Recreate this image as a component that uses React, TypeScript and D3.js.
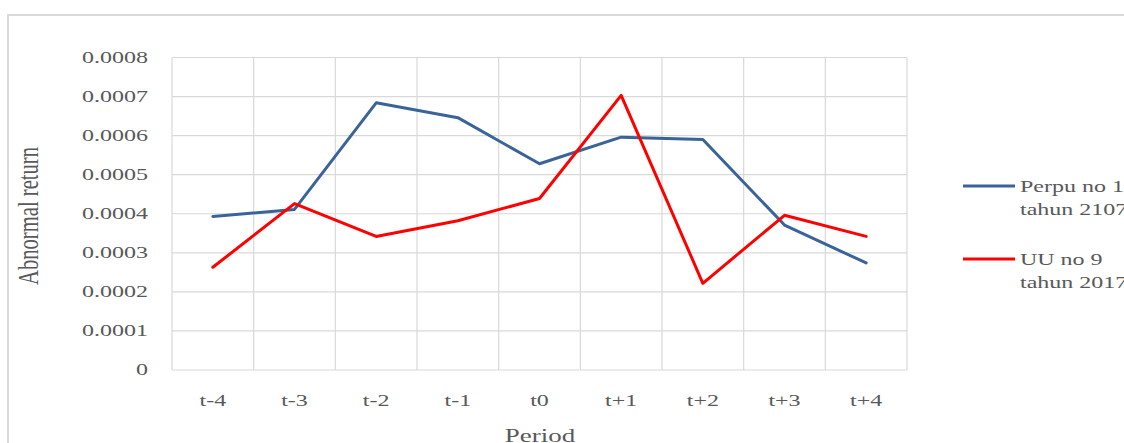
import React from "react";
import * as d3 from "d3";

const periods = ["t-4", "t-3", "t-2", "t-1", "t0", "t+1", "t+2", "t+3", "t+4"];
const perpuValues = [0.000393, 0.000411, 0.000684, 0.000646, 0.000528, 0.000596, 0.00059, 0.000371, 0.000274];
const uuValues = [0.000263, 0.000426, 0.000342, 0.000382, 0.000439, 0.000703, 0.000222, 0.000396, 0.000342];
const yTicks = [0, 0.0001, 0.0002, 0.0003, 0.0004, 0.0005, 0.0006, 0.0007, 0.0008];
const seriesNames = [
  ["Perpu no 1", "tahun 2107"],
  ["UU no 9", "tahun 2017"],
];
const seriesColors = ["#3A6399", "#FF0000"];

const W = 1124;
const H = 443;
const plot = { left: 172, right: 907, top: 57.5, bottom: 370 };
const SX = 1.5;
const textColor = "#595959";
const font = "'Liberation Serif', 'Times New Roman', serif";

function SText({ x, y, anchor = "start", size = 16, children, rotate = 0 }: any) {
  return (
    <text
      transform={`translate(${x},${y}) rotate(${rotate}) scale(${SX},1)`}
      textAnchor={anchor}
      fontFamily={font}
      fontSize={size}
      fill={textColor}
    >
      {children}
    </text>
  );
}

export default function App() {
  const x = d3.scaleBand<string>().domain(periods).range([plot.left, plot.right]);
  const y = d3.scaleLinear().domain([0, 0.0008]).range([plot.bottom, plot.top]);
  const line = d3
    .line<number>()
    .x((_, i) => (x(periods[i]) as number) + x.bandwidth() / 2)
    .y((v) => y(v));
  const series = [perpuValues, uuValues];
  const boundaries = periods.map((p) => x(p) as number).concat([plot.right]);

  return (
    <svg width={W} height={H} style={{ position: "absolute", left: 0, top: 0, background: "#fff" }}>
      <rect x={8} y={15} width={W + 20} height={H + 20} fill="#fff" stroke="#d9d9d9" strokeWidth={2} />
      {yTicks.map((t) => (
        <line key={"h" + t} x1={plot.left} x2={plot.right} y1={y(t)} y2={y(t)} stroke="#d9d9d9" strokeWidth={1.2} />
      ))}
      {boundaries.map((b, i) => (
        <line key={"v" + i} x1={b} x2={b} y1={plot.top} y2={plot.bottom} stroke="#d9d9d9" strokeWidth={1.2} />
      ))}
      {yTicks.map((t) => (
        <SText key={"yt" + t} x={148} y={y(t) + 5} anchor="end" size={16}>
          {t === 0 ? "0" : t.toFixed(4)}
        </SText>
      ))}
      {periods.map((p) => (
        <SText key={"xt" + p} x={(x(p) as number) + x.bandwidth() / 2} y={406} anchor="middle" size={16}>
          {p}
        </SText>
      ))}
      <SText x={540} y={442} anchor="middle" size={18}>
        Period
      </SText>
      <text
        transform={`translate(38,216) rotate(-90) scale(1,${SX})`}
        textAnchor="middle"
        fontFamily={font}
        fontSize={19}
        fill={textColor}
        textLength={138}
        lengthAdjust="spacingAndGlyphs"
      >
        Abnormal return
      </text>
      {series.map((s, i) => (
        <path key={"s" + i} d={line(s) as string} fill="none" stroke={seriesColors[i]} strokeWidth={3} strokeLinejoin="round" strokeLinecap="round" />
      ))}
      {seriesNames.map((names, i) => {
        const ly = 186 + i * 73;
        return (
          <g key={"lg" + i}>
            <line x1={963} x2={1015} y1={ly} y2={ly} stroke={seriesColors[i]} strokeWidth={3} />
            <SText x={1020} y={ly + 6} size={16}>{names[0]}</SText>
            <SText x={1020} y={ly + 29} size={16}>{names[1]}</SText>
          </g>
        );
      })}
    </svg>
  );
}
